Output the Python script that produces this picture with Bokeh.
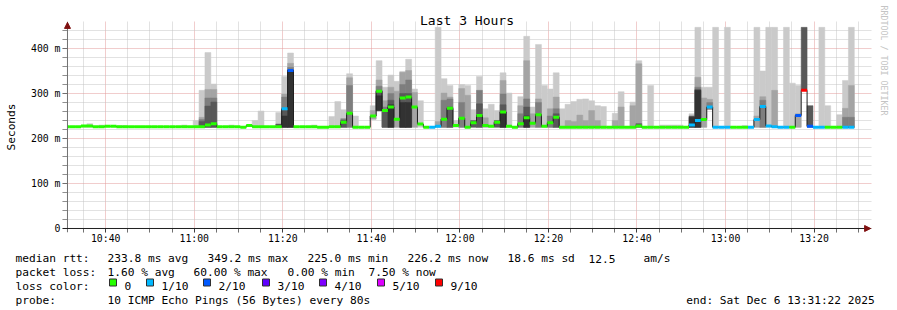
from bokeh.plotting import figure
from bokeh.layouts import column
from bokeh.models import Range1d, FixedTicker, ColumnDataSource, Title, Arrow, NormalHead, Span
from bokeh.core.properties import value
from bokeh.embed import file_html
from bokeh.resources import INLINE

# ---------------- data (one value per 80 s step, ms) ----------------
median_ms = [
    226, 226, 226, 228, 228, 226, 226, 227, 227, 226,
    226, 226, 226, 226, 226, 226, 226, 226, 226, 226,
    226, 226, 226, 226, 230, 233, 226, 226, 226, 226,
    225, 229, 226, 226, 226, 226, 226, 266, 351, 226,
    226, 226, 226, 225, 225, 226, 226, 236, 256, 225,
    225, 225, 250, 305, 262, 270, 243, 290, 292, 270,
    232, 225, 225, 227, 243, 267, 229, 245, 225, 235,
    251, 229, 227, 236, 259, 227, 225, 233, 246, 234,
    253, 227, 235, 247, 225, 225, 225, 225, 225, 225,
    225, 225, 225, 225, 225, 225, 225, 228, 225, 225,
    225, 225, 225, 225, 225, 225, 230, 240, 242, 270,
    225, 225, 225, 225, 225, 225, 225, 242, 271, 228,
    226, 225, 225, 225, 251, 307, 227, 225, 225, 225,
    225, 225, 225, 225]

loss_count = [
    0, 0, 0, 0, 0, 0, 0, 0, 0, 0,
    0, 0, 0, 0, 0, 0, 0, 0, 0, 0,
    0, 0, 0, 0, 0, 0, 0, 0, 0, 0,
    0, 0, 0, 0, 0, 0, 0, 1, 2, 0,
    0, 0, 0, 0, 0, 0, 0, 0, 0, 0,
    0, 0, 0, 0, 0, 0, 0, 0, 0, 0,
    0, 0, 1, 1, 0, 0, 0, 0, 0, 0,
    0, 0, 0, 0, 0, 0, 0, 0, 0, 0,
    0, 0, 0, 0, 0, 0, 0, 0, 0, 0,
    0, 0, 0, 0, 0, 0, 0, 0, 0, 0,
    0, 0, 0, 0, 0, 0, 1, 1, 0, 1,
    1, 1, 1, 0, 0, 0, 1, 1, 1, 1,
    1, 1, 1, 0, 2, 9, 2, 1, 1, 0,
    0, 0, 1, 1]

smoke_low = [
    225, 225, 225, 225, 225, 225, 225, 225, 225, 225,
    225, 225, 225, 225, 225, 225, 225, 225, 225, 225,
    225, 225, 225, 225, 225, 225, 225, 225, 225, 225,
    225, 225, 225, 225, 225, 225, 225, 225, 225, 225,
    225, 225, 225, 225, 225, 225, 225, 225, 225, 225,
    225, 225, 243, 262, 225, 225, 225, 225, 225, 225,
    225, 225, 225, 225, 225, 225, 225, 225, 225, 225,
    225, 225, 225, 225, 225, 225, 225, 225, 225, 225,
    225, 225, 225, 225, 225, 225, 225, 225, 225, 225,
    225, 225, 225, 225, 225, 225, 225, 225, 225, 225,
    225, 225, 225, 225, 225, 225, 225, 225, 225, 265,
    225, 225, 225, 225, 225, 225, 225, 225, 225, 225,
    225, 225, 225, 225, 225, 307, 225, 225, 225, 225,
    225, 225, 225, 225]

smoke_1 = [
    227, 0, 0, 229, 233, 0, 230, 0, 0, 229,
    229, 0, 0, 0, 0, 0, 0, 0, 0, 0,
    230, 0, 240, 307, 391, 321, 0, 0, 230, 0,
    0, 0, 240, 261, 0, 0, 258, 338, 390, 0,
    0, 0, 230, 0, 0, 249, 282, 264, 344, 250,
    0, 0, 273, 373, 314, 341, 327, 349, 376, 310,
    284, 0, 0, 447, 333, 318, 240, 320, 318, 264,
    338, 266, 276, 262, 346, 301, 0, 293, 427, 270,
    409, 318, 310, 346, 266, 276, 282, 287, 288, 284,
    273, 271, 0, 256, 304, 0, 281, 373, 0, 318,
    0, 230, 230, 230, 230, 0, 255, 447, 314, 314,
    447, 0, 447, 0, 0, 229, 0, 447, 350, 447,
    447, 0, 447, 323, 318, 0, 0, 0, 447, 273,
    0, 253, 329, 447]

smoke_2 = [
    0, 0, 0, 0, 0, 0, 0, 0, 0, 0,
    0, 0, 0, 0, 0, 0, 0, 0, 0, 0,
    0, 0, 0, 247, 309, 309, 0, 0, 0, 0,
    0, 0, 0, 0, 0, 0, 0, 299, 367, 0,
    0, 0, 0, 0, 0, 0, 0, 0, 335, 0,
    0, 0, 262, 330, 284, 314, 305, 347, 351, 302,
    0, 0, 0, 238, 301, 292, 0, 311, 296, 0,
    0, 246, 0, 0, 329, 0, 0, 273, 373, 255,
    288, 0, 266, 292, 0, 240, 238, 252, 240, 262,
    240, 0, 0, 240, 270, 0, 273, 366, 0, 0,
    0, 0, 0, 0, 0, 0, 0, 336, 290, 287,
    0, 0, 0, 0, 0, 0, 0, 250, 293, 0,
    307, 0, 0, 0, 255, 0, 0, 0, 0, 0,
    0, 0, 267, 318]

smoke_3 = [
    0, 0, 0, 0, 0, 0, 0, 0, 0, 0,
    0, 0, 0, 0, 0, 0, 0, 0, 0, 0,
    0, 0, 0, 242, 290, 290, 0, 0, 0, 0,
    0, 0, 0, 0, 0, 0, 0, 292, 358, 0,
    0, 0, 0, 0, 0, 0, 0, 244, 318, 0,
    0, 0, 0, 316, 270, 300, 0, 320, 330, 0,
    0, 0, 0, 0, 285, 288, 0, 280, 0, 0,
    307, 0, 0, 0, 299, 0, 0, 255, 288, 0,
    280, 0, 250, 266, 0, 0, 0, 0, 0, 0,
    0, 0, 0, 0, 0, 0, 0, 0, 0, 0,
    0, 0, 0, 0, 0, 0, 0, 314, 0, 280,
    0, 0, 0, 0, 0, 0, 0, 0, 285, 0,
    0, 0, 0, 0, 0, 0, 0, 0, 0, 0,
    0, 0, 247, 247]

smoke_4 = [
    0, 0, 0, 0, 0, 0, 0, 0, 0, 0,
    0, 0, 0, 0, 0, 0, 0, 0, 0, 0,
    0, 0, 0, 238, 272, 281, 0, 0, 0, 0,
    0, 0, 0, 0, 0, 0, 232, 262, 352, 0,
    0, 0, 0, 0, 0, 0, 0, 240, 0, 0,
    0, 0, 0, 307, 262, 285, 0, 300, 300, 0,
    0, 0, 0, 0, 0, 270, 0, 0, 0, 240,
    277, 0, 0, 240, 275, 0, 0, 0, 270, 0,
    0, 0, 0, 255, 0, 0, 0, 0, 0, 0,
    0, 0, 0, 0, 0, 0, 0, 233, 0, 0,
    0, 0, 0, 0, 0, 0, 250, 309, 0, 0,
    0, 0, 0, 0, 0, 0, 0, 0, 0, 0,
    0, 0, 0, 0, 0, 447, 273, 0, 0, 0,
    0, 0, 0, 0]

smoke_5 = [
    0, 0, 0, 0, 0, 0, 0, 0, 0, 0,
    0, 0, 0, 0, 0, 0, 0, 0, 0, 0,
    0, 0, 0, 0, 0, 0, 0, 0, 0, 0,
    0, 0, 0, 0, 0, 0, 0, 250, 351, 0,
    0, 0, 0, 0, 0, 0, 0, 0, 0, 0,
    0, 0, 0, 295, 0, 275, 0, 280, 280, 0,
    0, 0, 0, 0, 0, 0, 0, 0, 0, 0,
    0, 0, 0, 0, 260, 0, 0, 0, 250, 0,
    0, 0, 0, 0, 0, 0, 0, 0, 0, 0,
    0, 0, 0, 0, 0, 0, 0, 0, 0, 0,
    0, 0, 0, 0, 0, 0, 247, 307, 0, 0,
    0, 0, 0, 0, 0, 0, 0, 0, 0, 0,
    0, 0, 0, 0, 0, 0, 0, 0, 0, 0,
    0, 0, 0, 0]

smoke_colors = ["#cacaca", "#a4a4a4", "#7e7e7e", "#585858", "#323232"]

loss_keys = [0, 1, 2, 3, 4, 5, 9]
loss_labels = ["0", "1/10", "2/10", "3/10", "4/10", "5/10", "9/10"]
loss_colors = ["#26ff00", "#00b8ff", "#0059ff", "#5e00ff", "#7e00ff", "#dd00ff", "#ff0000"]

# time axis: minutes after 10:00
x_tick_minutes = [40, 60, 80, 100, 120, 140, 160, 180, 200]
x_tick_labels = ["10:40", "11:00", "11:20", "11:40", "12:00", "12:20", "12:40", "13:00", "13:20"]
x_minor_minutes = [35, 45, 50, 55, 65, 70, 75, 85, 90, 95, 105, 110, 115, 125, 130, 135,
                   145, 150, 155, 165, 170, 175, 185, 190, 195, 205, 210]
y_tick_ms = [0, 100, 200, 300, 400]
y_tick_labels = ["0", "100 m", "200 m", "300 m", "400 m"]
y_minor_ms = [20, 40, 60, 80, 120, 140, 160, 180, 220, 240, 260, 280, 320, 340, 360, 380, 420, 440]

stats_row1 = ["median rtt:", "233.8 ms avg", "349.2 ms max", "225.0 ms min",
              "226.2 ms now", "18.6 ms sd", "12.5", "am/s"]
stats_row2 = ["packet loss:", "1.60 % avg", "60.00 % max", "0.00 % min", "7.50 % now"]
probe_row = ["probe:", "10 ICMP Echo Pings (56 Bytes) every 80s"]
end_text = "end: Sat Dec  6 13:31:22 2025"

# layout positions of the legend texts (canvas pixels)
row1_x = [15, 107, 207, 307, 407, 507, 588, 643]
row2_x = [15, 107, 193, 287, 368]
probe_x = [15, 107]
box_x = [109, 146, 203, 262, 319, 377, 435]
ROW_Y = [258.3, 271.5, 285.7, 299.6]

STEP_MIN = 80.0 / 60.0
FIRST_STEP = 30 + 25 / 60.0      # 10:30:25
T_START = 31 + 22 / 60.0         # 10:31:22 (graph start)
X0 = T_START - 1.125             # 5 px of room left of the axis (tick marks)
X1 = T_START + 181.6             # room for the axis arrow
Y0, Y1 = -8.89, 460
Y_CLIP = 447
MONO = "DejaVu Sans Mono"
TOP_H = 250

# ---------------- main chart ----------------
p = figure(width=897, height=TOP_H, output_backend="svg", toolbar_location=None,
           x_range=Range1d(X0, X1), y_range=Range1d(Y0, Y1),
           min_border_left=62, min_border_right=23, min_border_top=21, min_border_bottom=18)
p.outline_line_color = None
p.background_fill_color = "white"
p.border_fill_color = "white"

n = len(median_ms)
left = [max(FIRST_STEP + k * STEP_MIN, T_START) for k in range(n)]
right = [FIRST_STEP + (k + 1) * STEP_MIN for k in range(n)]

for vals, col in zip([smoke_1, smoke_2, smoke_3, smoke_4, smoke_5], smoke_colors):
    idx = [k for k in range(n) if vals[k] > smoke_low[k]]
    src = ColumnDataSource(dict(left=[left[k] for k in idx], right=[right[k] for k in idx],
                                bottom=[smoke_low[k] for k in idx],
                                top=[min(vals[k], Y_CLIP) for k in idx]))
    p.quad(left="left", right="right", bottom="bottom", top="top", source=src,
           fill_color=col, line_color=col, line_width=0.5)

p.step(x=left + [right[-1]], y=median_ms + [median_ms[-1]], mode="after",
       line_color="#202020", line_width=1)

cmap = dict(zip(loss_keys, loss_colors))
BAND = 3.3
p.quad(left=left, right=right, bottom=[m - BAND for m in median_ms],
       top=[m + BAND for m in median_ms], fill_color=[cmap[l] for l in loss_count],
       line_color=None)

# axes: ticks/labels from Bokeh's axes, axis lines at t=start and y=0
p.xaxis.ticker = FixedTicker(ticks=x_tick_minutes, minor_ticks=x_minor_minutes)
p.xaxis.major_label_overrides = dict(zip(x_tick_minutes, x_tick_labels))
p.yaxis.ticker = FixedTicker(ticks=y_tick_ms, minor_ticks=y_minor_ms)
p.yaxis.major_label_overrides = dict(zip(y_tick_ms, y_tick_labels))

for ax in (p.xaxis, p.yaxis):
    ax.axis_line_color = None
    ax.major_label_text_font = MONO
    ax.major_label_text_font_size = "9.8px"
    ax.major_label_text_color = "#000000"
    ax.major_tick_out = 0
    ax.minor_tick_out = 0
p.yaxis.major_tick_in = 5
p.yaxis.minor_tick_in = 5
p.xaxis.major_tick_in = 4
p.xaxis.minor_tick_in = 4
p.xaxis.major_tick_line_color = "#404040"
p.xaxis.minor_tick_line_color = "#707070"
p.yaxis.major_tick_line_color = "#707070"
p.yaxis.minor_tick_line_color = "#909090"
p.xaxis.major_label_standoff = 0
p.yaxis.major_label_standoff = 2
p.yaxis.axis_label = "Seconds"
p.yaxis.axis_label_text_font = MONO
p.yaxis.axis_label_text_font_size = "11.2px"
p.yaxis.axis_label_text_font_style = "normal"
p.yaxis.axis_label_text_color = "#000000"
p.yaxis.axis_label_standoff = 10

p.add_layout(Span(location=T_START, dimension="height", line_color="#707070", line_width=1))
p.add_layout(Span(location=0, dimension="width", line_color="#202020", line_width=1))

for g in (p.xgrid, p.ygrid):
    g.grid_line_color = "#e39a9a"
    g.grid_line_dash = "1 1"
    g.minor_grid_line_color = "#c4c4c4"
    g.minor_grid_line_dash = "1 1"

# axis arrows
head_col = "#7f1010"
p.add_layout(Arrow(end=NormalHead(size=6, fill_color=head_col, line_color=head_col),
                   x_start=T_START, y_start=440, x_end=T_START, y_end=458, line_alpha=0))
p.add_layout(Arrow(end=NormalHead(size=6, fill_color=head_col, line_color=head_col),
                   x_start=T_START + 178, y_start=0, x_end=T_START + 181.4, y_end=0, line_alpha=0))

p.title.text = "Last 3 Hours"
p.title.align = "center"
p.title.offset = -16
p.title.standoff = -12
p.title.text_font = MONO
p.title.text_font_size = "13px"
p.title.text_font_style = "normal"
p.title.text_color = "#000000"

p.add_layout(Title(text="RRDTOOL / TOBI OETIKER", align="left", offset=-16, standoff=14,
                   text_font=MONO, text_font_size="8.3px", text_font_style="normal",
                   text_color="#c4c4c4"), "right")

# ---------------- legend / statistics block ----------------
q = figure(width=897, height=310 - TOP_H, output_backend="svg", toolbar_location=None,
           x_range=Range1d(0, 897), y_range=Range1d(310, TOP_H),
           min_border_left=0, min_border_right=0, min_border_top=0, min_border_bottom=0)
q.axis.visible = False
q.grid.visible = False
q.outline_line_color = None
q.background_fill_color = "white"
q.border_fill_color = "white"
try:
    p.frame_align = False
    q.frame_align = False
except Exception:
    pass

tx = row1_x + row2_x + [15] + [b + 15 for b in box_x] + probe_x
ty = [ROW_Y[0]] * len(row1_x) + [ROW_Y[1]] * len(row2_x) + [ROW_Y[2]] * (1 + len(box_x)) + [ROW_Y[3]] * 2
tt = stats_row1 + stats_row2 + ["loss color:"] + loss_labels + probe_row
q.text(x=tx, y=ty, text=tt, text_font=value(MONO), text_font_size=value("11.2px"),
       text_color="#000000", text_align="left", text_baseline="alphabetic")
q.text(x=[881], y=[ROW_Y[3]], text=[end_text], text_font=value(MONO),
       text_font_size=value("11.2px"), text_color="#000000", text_align="right",
       text_baseline="alphabetic")
q.quad(left=box_x, right=[b + 7 for b in box_x], top=[278.5] * len(box_x),
       bottom=[285.5] * len(box_x), fill_color=loss_colors, line_color="#303030", line_width=1)

layout = column(p, q, spacing=0)
open("out.html", "w").write(file_html(layout, INLINE))
